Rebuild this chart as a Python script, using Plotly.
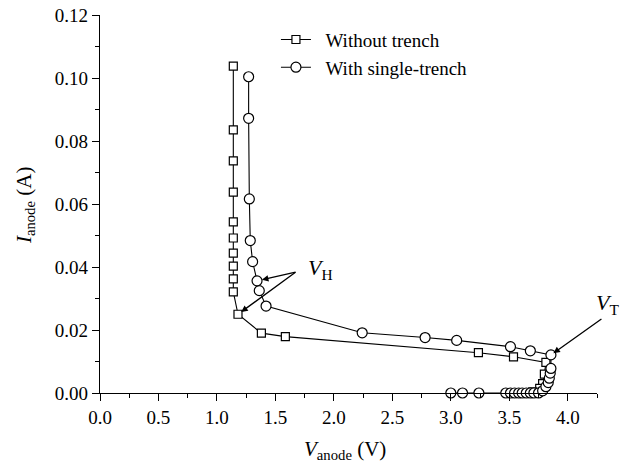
import plotly.graph_objects as go

# Without trench (squares)
v_without = [1.14, 1.14, 1.14, 1.14, 1.14, 1.14, 1.14, 1.14, 1.14, 1.14,
             1.18, 1.38, 1.585, 3.236, 3.536, 3.813, 3.80, 3.785, 3.76, 3.70, 3.60, 3.50]
i_without = [0.1038, 0.0835, 0.0737, 0.0638, 0.0543, 0.0492, 0.0444, 0.0403, 0.0362, 0.0321,
             0.0250, 0.0190, 0.0179, 0.0128, 0.0115, 0.0097, 0.0060, 0.0030, 0.0015, 0.0004, 0.0, 0.0]

# With single-trench (circles)
v_single = [3.00, 3.10, 3.24, 3.47, 3.51, 3.545, 3.58, 3.61, 3.645, 3.68, 3.71, 3.75,
            3.785, 3.813, 3.833, 3.842, 3.85, 3.856, 3.856,
            3.68, 3.51, 3.05, 2.78, 2.242, 1.42, 1.362, 1.343, 1.305, 1.285, 1.277, 1.271, 1.271]
i_single = [0.0, 0.0, 0.0, 0.0, 0.0, 0.0, 0.0, 0.0, 0.0, 0.0, 0.0, 0.0,
            0.0007, 0.0020, 0.0033, 0.0047, 0.0063, 0.0078, 0.0121,
            0.0134, 0.0147, 0.0167, 0.0176, 0.0191, 0.0276, 0.0325, 0.0356, 0.0417, 0.0484, 0.0616, 0.0872, 0.1004]

x_ticks = [0.0, 0.5, 1.0, 1.5, 2.0, 2.5, 3.0, 3.5, 4.0]
y_ticks = [0.00, 0.02, 0.04, 0.06, 0.08, 0.10, 0.12]

FONT = "Liberation Serif, Times New Roman, DejaVu Serif, serif"

fig = go.Figure()
fig.add_trace(go.Scatter(
    x=v_without, y=i_without, mode="lines+markers", name="\u00a0\u00a0Without trench",
    line=dict(color="black", width=1.1),
    marker=dict(symbol="square", size=8, color="white", line=dict(color="black", width=1.2)),
    cliponaxis=False,
))
fig.add_trace(go.Scatter(
    x=v_single, y=i_single, mode="lines+markers", name="\u00a0\u00a0With single-trench",
    line=dict(color="black", width=1.1),
    marker=dict(symbol="circle", size=10, color="white", line=dict(color="black", width=1.2)),
    cliponaxis=False,
))

axis_common = dict(
    showline=True, linecolor="black", linewidth=1.3, mirror=False,
    ticks="outside", ticklen=7, tickwidth=1.2, tickcolor="black",
    showgrid=False, zeroline=False, automargin=False,
    tickfont=dict(family=FONT, size=19, color="black"),
)

fig.update_xaxes(
    range=[0, 4.25], tickvals=x_ticks, ticktext=[f"{v:.1f}" for v in x_ticks],
    minor=dict(ticks="outside", ticklen=4, tickwidth=1.2, tickcolor="black", dtick=0.25, tick0=0),
    **axis_common,
)
fig.update_yaxes(
    range=[0, 0.12], tickvals=y_ticks, ticktext=[f"{v:.2f}" for v in y_ticks],
    minor=dict(ticks="outside", ticklen=4, tickwidth=1.2, tickcolor="black", dtick=0.01, tick0=0),
    **axis_common,
)

# Axis titles
fig.add_annotation(x=0.493, y=-0.151, xref="paper", yref="paper", xanchor="center", yanchor="middle",
                   text="<i>V</i><sub>anode</sub> (V)", showarrow=False,
                   font=dict(family=FONT, size=21, color="black"))
fig.add_annotation(x=-0.151, y=0.497, xref="paper", yref="paper", xanchor="center", yanchor="middle",
                   text="<i>I</i><sub>anode</sub> (A)", showarrow=False, textangle=-90,
                   font=dict(family=FONT, size=21, color="black"))

# V_H arrows
fig.add_annotation(x=1.343, y=0.0356, xref="x", yref="y", ax=40, ay=-9, text="",
                   showarrow=True, arrowhead=2, arrowsize=1, arrowwidth=1.3, arrowcolor="black", standoff=5)
fig.add_annotation(x=1.18, y=0.0250, xref="x", yref="y", ax=59, ay=-43, text="",
                   showarrow=True, arrowhead=2, arrowsize=1, arrowwidth=1.3, arrowcolor="black", standoff=4)
fig.add_annotation(x=1.765, y=0.0395, xref="x", yref="y", xanchor="left", yanchor="middle",
                   text="<i>V</i><sub>H</sub>", showarrow=False,
                   font=dict(family=FONT, size=22, color="black"))
# V_T arrow
fig.add_annotation(x=3.856, y=0.0121, xref="x", yref="y", ax=52, ay=-37, text="",
                   showarrow=True, arrowhead=2, arrowsize=1, arrowwidth=1.3, arrowcolor="black", standoff=3)
fig.add_annotation(x=4.225, y=0.0283, xref="x", yref="y", xanchor="left", yanchor="middle",
                   text="<i>V</i><sub>T</sub>", showarrow=False,
                   font=dict(family=FONT, size=22, color="black"))

fig.update_layout(
    width=626, height=467,
    margin=dict(l=100, r=29, t=15, b=74, autoexpand=False),
    plot_bgcolor="white", paper_bgcolor="white",
    font=dict(family=FONT, size=19, color="black"),
    showlegend=True,
    legend=dict(x=0.354, y=0.985, xanchor="left", yanchor="top",
                bgcolor="rgba(0,0,0,0)", font=dict(family=FONT, size=19, color="black"),
                tracegroupgap=0, itemsizing="trace"),
)

fig.write_html("out.html")
